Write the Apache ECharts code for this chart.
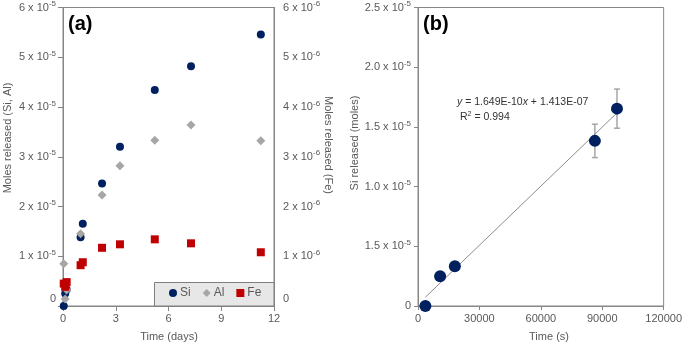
<!DOCTYPE html>
<html>
<head>
<meta charset="utf-8">
<script src="https://cdn.jsdelivr.net/npm/echarts@6/dist/echarts.min.js"></script>
<style>
html,body{margin:0;padding:0;background:#fff;}
#chart{width:685px;height:345px;}
</style>
</head>
<body>
<div id="chart"></div>
<script>
// ---------- Panel (a) data ----------
const timeDays = [0.042, 0.125, 0.208, 1.0, 1.125, 2.22, 3.24, 5.22, 7.28, 11.25];
const siMolesA = [0, 0.25e-5, 0.333e-5, 1.383e-5, 1.653e-5, 2.46e-5, 3.20e-5, 4.34e-5, 4.82e-5, 5.455e-5];
const alMolesA = [0.85e-5, 0.14e-5, 0.32e-5, 1.45e-5, null, 2.23e-5, 2.82e-5, 3.33e-5, 3.64e-5, 3.32e-5];
const feMolesA = [0.45e-6, 0.385e-6, 0.48e-6, 0.82e-6, 0.88e-6, 1.17e-6, 1.24e-6, 1.34e-6, 1.26e-6, 1.08e-6];
const aLeftTickLabels = ['0', '1 x 10^-5', '2 x 10^-5', '3 x 10^-5', '4 x 10^-5', '5 x 10^-5', '6 x 10^-5'];
const aRightTickLabels = ['0', '1 x 10^-6', '2 x 10^-6', '3 x 10^-6', '4 x 10^-6', '5 x 10^-6', '6 x 10^-6'];
const aXTickLabels = ['0', '3', '6', '9', '12'];
const seriesNamesA = ['Si', 'Al', 'Fe'];

// ---------- Panel (b) data ----------
const timeSeconds = [3600, 10800, 18000, 86400, 97200];
const siReleasedB = [0, 0.25e-5, 0.333e-5, 1.383e-5, 1.653e-5];
const siErrorB = [0, 0, 0, 0.14e-5, 0.164e-5];
const bLeftTickLabels = ['0', '1.5 x 10^-5', '1.0 x 10^-5', '1.5 x 10^-5', '2.0 x 10^-5', '2.5 x 10^-5'];
const bXTickLabels = ['0', '30000', '60000', '90000', '120000'];
const trendSlope = 1.649e-10;
const trendIntercept = 1.413e-7;
const trendSlopeText = '1.649E-10';
const trendInterceptText = '1.413E-07';
const trendR2 = '0.994';

const TXT = '#595959';
const AX = '#868686';
const FONT = 'Liberation Sans';

function supLabel(str, raiseZero) {
  if (str.indexOf('^') < 0) return raiseZero ? '{z|' + str + '}' : '{m|' + str + '}';
  const parts = str.split('^');
  return '{m|' + parts[0] + '}{s|' + parts[1] + '}';
}
const richLabel = {
  m: {fontSize: 11, fontFamily: FONT, color: TXT},
  s: {fontSize: 8, fontFamily: FONT, color: TXT, padding: [0, 0, 7, 0]},
  z: {fontSize: 11, fontFamily: FONT, color: TXT, padding: [0, 0, 14, 0]}
};

const chart = echarts.init(document.getElementById('chart'), null, {renderer: 'canvas'});

const axisCommon = {
  axisLine: {show: true, lineStyle: {color: AX, width: 1}},
  axisTick: {show: true, inside: false, length: 5, lineStyle: {color: AX}},
  splitLine: {show: false}
};

const errData = timeSeconds.map((t, i) => [t, siReleasedB[i], siErrorB[i]]);
const trendX0 = timeSeconds[0], trendX1 = timeSeconds[timeSeconds.length - 1];

const option = {
  animation: false,
  backgroundColor: '#fff',
  grid: [
    {left: 63, top: 5, width: 211, height: 301, show: true, borderColor: AX, borderWidth: 1, backgroundColor: 'transparent'},
    {left: 418, top: 6, width: 248, height: 300, show: true, borderColor: AX, borderWidth: 1, backgroundColor: 'transparent'}
  ],
  xAxis: [
    Object.assign({}, axisCommon, {
      gridIndex: 0, type: 'value', min: 0, max: 12, interval: 3,
      axisLabel: {color: TXT, fontSize: 11, fontFamily: FONT, margin: 7,
        formatter: v => aXTickLabels[Math.round(v / 3)] || ''}
    }),
    Object.assign({}, axisCommon, {
      gridIndex: 1, type: 'value', min: 0, max: 120000, interval: 30000,
      axisTick: {show: true, length: 4, lineStyle: {color: AX}},
      axisLabel: {color: TXT, fontSize: 11, fontFamily: FONT, margin: 7,
        formatter: v => bXTickLabels[Math.round(v / 30000)] || ''}
    })
  ],
  yAxis: [
    Object.assign({}, axisCommon, {
      gridIndex: 0, type: 'value', position: 'left', min: 0, max: 6e-5, interval: 1e-5,
      axisLabel: {margin: 7, rich: richLabel,
        formatter: v => supLabel(aLeftTickLabels[Math.round(v / 1e-5)] || '', true)}
    }),
    Object.assign({}, axisCommon, {
      gridIndex: 0, type: 'value', position: 'right', min: 0, max: 6e-6, interval: 1e-6,
      axisTick: {show: false},
      axisLabel: {margin: 9, rich: richLabel,
        formatter: v => supLabel(aRightTickLabels[Math.round(v / 1e-6)] || '', true)}
    }),
    Object.assign({}, axisCommon, {
      gridIndex: 1, type: 'value', position: 'left', min: 0, max: 2.5e-5, interval: 0.5e-5,
      axisTick: {show: true, length: 4, lineStyle: {color: AX}},
      axisLabel: {margin: 7, rich: richLabel,
        formatter: v => supLabel(bLeftTickLabels[Math.round(v / 0.5e-5)] || '', false)}
    })
  ],
  legend: {
    left: 169, top: 287, padding: 0, itemGap: 12, itemWidth: 8, itemHeight: 8,
    textStyle: {color: TXT, fontSize: 12, fontFamily: FONT, padding: [0, 0, 0, -2]},
    data: [
      {name: seriesNamesA[0], icon: 'circle'},
      {name: seriesNamesA[1], icon: 'diamond'},
      {name: seriesNamesA[2], icon: 'rect'}
    ],
    z: 10
  },
  graphic: [
    {type: 'rect', z: 1, shape: {x: 154.5, y: 282.5, width: 119.5, height: 23.5},
      style: {fill: '#e7e7e7', stroke: '#7f7f7f', lineWidth: 1}},
    {type: 'text', left: 68, top: 14, style: {text: '(a)', font: 'bold 20px "Liberation Sans"', fill: '#000'}},
    {type: 'text', left: 423, top: 14, style: {text: '(b)', font: 'bold 20px "Liberation Sans"', fill: '#000'}},
    {type: 'text', x: 8, y: 138, rotation: Math.PI / 2,
      style: {text: 'Moles released (Si, Al)', font: '11px "Liberation Sans"', fill: TXT, textAlign: 'center', textVerticalAlign: 'middle'}},
    {type: 'text', x: 328, y: 145, rotation: -Math.PI / 2,
      style: {text: 'Moles released (Fe)', font: '11px "Liberation Sans"', fill: TXT, textAlign: 'center', textVerticalAlign: 'middle'}},
    {type: 'text', x: 355, y: 143, rotation: Math.PI / 2,
      style: {text: 'Si released (moles)', font: '11px "Liberation Sans"', fill: TXT, textAlign: 'center', textVerticalAlign: 'middle'}},
    {type: 'text', x: 169, y: 337,
      style: {text: 'Time (days)', font: '11px "Liberation Sans"', fill: TXT, textAlign: 'center', textVerticalAlign: 'middle'}},
    {type: 'text', x: 549, y: 337,
      style: {text: 'Time (s)', font: '11px "Liberation Sans"', fill: TXT, textAlign: 'center', textVerticalAlign: 'middle'}},
    {type: 'text', x: 457, y: 102,
      style: {text: '{i|y}{n| = ' + trendSlopeText + '}{i|x}{n| + ' + trendInterceptText + '}',
        textVerticalAlign: 'middle',
        rich: {i: {fontStyle: 'italic', fontSize: 10.5, fontFamily: FONT, fill: '#333'},
               n: {fontSize: 10.5, fontFamily: FONT, fill: '#333'}}}},
    {type: 'text', x: 460, y: 117,
      style: {text: '{n|R}{s|2}{n| = ' + trendR2 + '}', textVerticalAlign: 'middle',
        rich: {n: {fontSize: 10.5, fontFamily: FONT, fill: '#333'},
               s: {fontSize: 7, fontFamily: FONT, fill: '#333', padding: [0, 0, 6, 0]}}}}
  ],
  series: [
    {name: 'Si', type: 'scatter', xAxisIndex: 0, yAxisIndex: 0, symbol: 'circle', symbolSize: 8, z: 3,
      itemStyle: {color: '#002060', opacity: 1},
      data: timeDays.map((t, i) => [t, siMolesA[i]])},
    {name: 'Al', type: 'scatter', xAxisIndex: 0, yAxisIndex: 0, symbol: 'diamond', symbolSize: 9, z: 4,
      itemStyle: {color: '#a6a6a6', opacity: 1},
      data: timeDays.map((t, i) => [t, alMolesA[i]]).filter(d => d[1] !== null)},
    {name: 'Fe', type: 'scatter', xAxisIndex: 0, yAxisIndex: 1, symbol: 'rect', symbolSize: 8, z: 5,
      itemStyle: {color: '#c00000', opacity: 1},
      data: timeDays.map((t, i) => [t, feMolesA[i]])},
    {name: 'trend', type: 'line', xAxisIndex: 1, yAxisIndex: 2, showSymbol: false, symbol: 'none', z: 2,
      lineStyle: {color: '#8c8c8c', width: 1}, silent: true,
      data: [[trendX0, trendSlope * trendX0 + trendIntercept], [trendX1, trendSlope * trendX1 + trendIntercept]]},
    {name: 'err', type: 'custom', xAxisIndex: 1, yAxisIndex: 2, z: 2, silent: true,
      data: errData,
      renderItem: function (params, api) {
        const x = api.value(0), y = api.value(1), e = api.value(2);
        if (!e) return null;
        const top = api.coord([x, y + e]);
        const bot = api.coord([x, y - e]);
        const st = {stroke: '#a6a6a6', lineWidth: 1.5};
        return {type: 'group', children: [
          {type: 'line', shape: {x1: top[0], y1: top[1], x2: bot[0], y2: bot[1]}, style: st},
          {type: 'line', shape: {x1: top[0] - 3, y1: top[1], x2: top[0] + 3, y2: top[1]}, style: st},
          {type: 'line', shape: {x1: bot[0] - 3, y1: bot[1], x2: bot[0] + 3, y2: bot[1]}, style: st}
        ]};
      }},
    {name: 'SiB', type: 'scatter', xAxisIndex: 1, yAxisIndex: 2, symbol: 'circle', symbolSize: 12, z: 5,
      itemStyle: {color: '#002060', opacity: 1},
      data: timeSeconds.map((t, i) => [t, siReleasedB[i]])}
  ]
};
chart.setOption(option);
</script>
</body>
</html>
